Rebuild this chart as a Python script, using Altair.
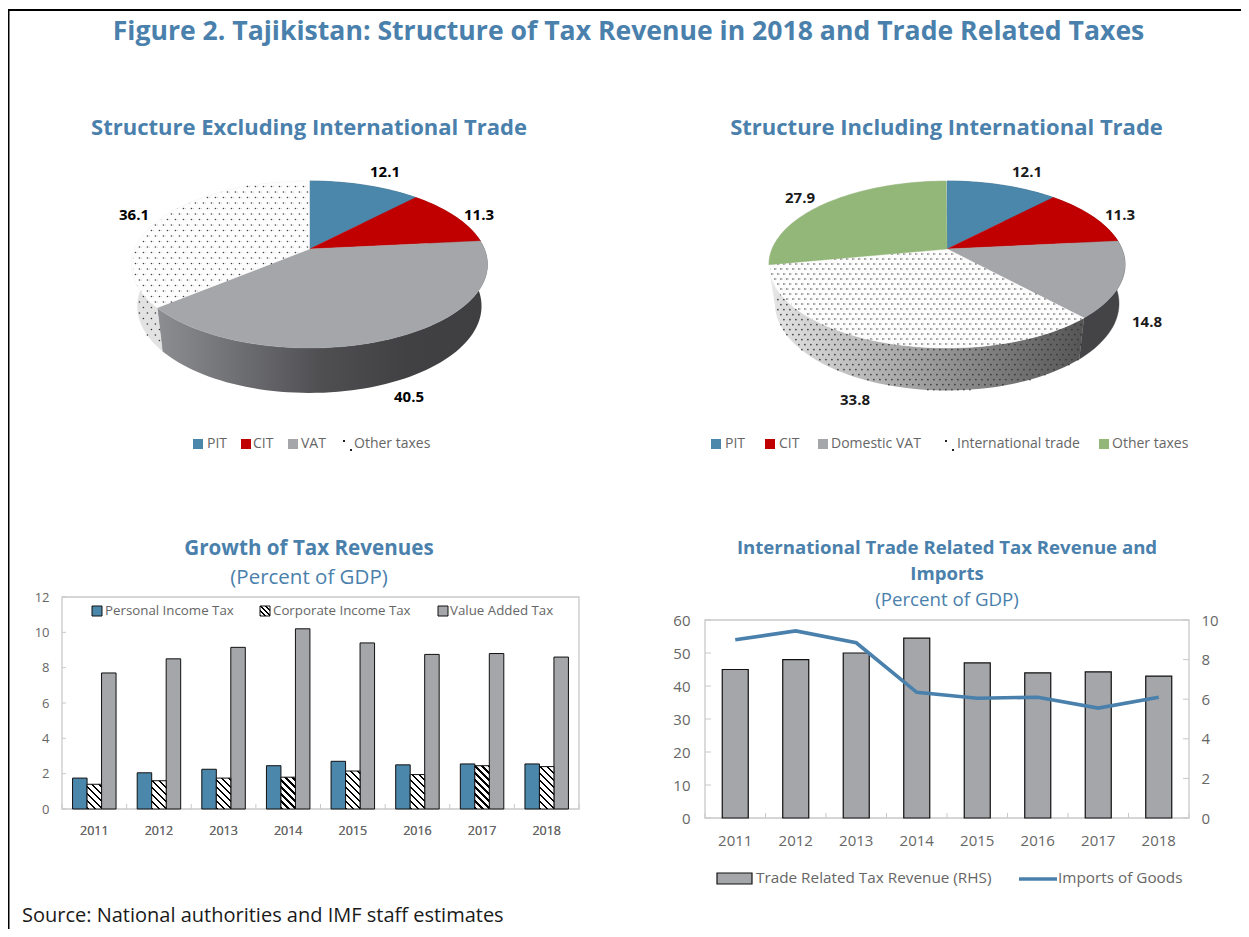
import math
import altair as alt

# ---------- data ----------
years = ["2011", "2012", "2013", "2014", "2015", "2016", "2017", "2018"]
pit = [1.75, 2.05, 2.25, 2.45, 2.7, 2.5, 2.55, 2.55]
cit = [1.4, 1.6, 1.75, 1.8, 2.15, 1.95, 2.45, 2.4]
vat = [7.7, 8.5, 9.15, 10.2, 9.4, 8.75, 8.8, 8.6]
trade_rev = [45, 48, 50, 54.5, 47, 44, 44.3, 43]
imports = [9.0, 9.45, 8.85, 6.35, 6.05, 6.1, 5.55, 6.1]
pie1_values = [12.1, 11.3, 40.5, 36.1]
pie2_values = [12.1, 11.3, 14.8, 33.8, 27.9]

W, H = 1233, 921
BLUE, RED, GREY, GREEN = "#4a87ab", "#c00000", "#a5a6aa", "#93b778"
TITLE = "#4a80ac"
TXT = "#666666"
FONT = "Open Sans"
GEO = dict(type="identity", scale=1, translate=[0, 0])


def X(p):
    return p - 8


def Y(p):
    return p - 8


layers = []


def text(s, x, y, size=13, color=TXT, weight="normal", align="left", font=FONT):
    layers.append(
        alt.Chart(alt.Data(values=[{"t": s}]))
        .mark_text(font=font, fontSize=size, color=color, fontWeight=weight, align=align, baseline="middle")
        .encode(x=alt.value(X(x)), y=alt.value(Y(y)), text="t:N")
    )


def box(x0, y0, x1, y1, **kw):
    layers.append(
        alt.Chart(alt.Data(values=[{"a": 1}]))
        .mark_rect(**kw)
        .encode(x=alt.value(X(x0)), x2=alt.value(X(x1)), y=alt.value(Y(y0)), y2=alt.value(Y(y1)))
    )


def hatch(w, h, period=7.0):
    k = (w + h) / (w * w + h * h)
    stops, q, total = [], 0.0, w + h
    while q < total:
        a, b, c = q / total, min(1, (q + period * 0.32) / total), min(1, (q + period) / total)
        stops += [
            alt.GradientStop(offset=a, color="#000000"),
            alt.GradientStop(offset=b, color="#000000"),
            alt.GradientStop(offset=b, color="#ffffff"),
            alt.GradientStop(offset=c, color="#ffffff"),
        ]
        q += period
    return alt.LinearGradient(gradient="linear", stops=stops, x1=0, y1=1, x2=k * w, y2=1 - k * h)


def grad(pairs):
    return alt.LinearGradient(
        gradient="linear", x1=0, y1=0, x2=1, y2=0,
        stops=[alt.GradientStop(offset=o, color=c) for o, c in pairs],
    )


# ---------- pie geometry (perspective-projected disc) ----------
P, A, B = 0.1857, 175.0, 80.6


def rim(cx, cy, deg, sx=1.0, sy=1.0, d=0.0):
    t = math.radians(deg)
    xx, yy = math.sin(t), math.cos(t)
    w = 1 + P * yy
    return [cx + sx * A * xx / w, cy + d - sy * B * yy / w]


def arc_pts(a, b, cx, cy, sx=1.0, sy=1.0, d=0.0):
    n = max(2, int(abs(b - a) / 2) + 1)
    return [rim(cx, cy, a + (b - a) * i / n, sx, sy, d) for i in range(n + 1)]


def feature(ring):
    ring = [[X(p[0]), Y(p[1])] for p in ring]
    ring = ring + [ring[0]]
    return {"type": "Feature", "properties": {}, "geometry": {"type": "Polygon", "coordinates": [ring]}}


def shape(ring, fill):
    m = {"fill": fill}
    if isinstance(fill, str):
        m.update(stroke=fill, strokeWidth=0.4)
    else:
        m.update(strokeWidth=0)
    layers.append(
        alt.Chart(alt.Data(values=[feature(ring)])).mark_geoshape(**m).project(**GEO)
    )


def inside(pt, poly):
    x, y = pt
    c = False
    for i in range(len(poly)):
        x1, y1 = poly[i]
        x2, y2 = poly[i - 1]
        if (y1 > y) != (y2 > y) and x < (x2 - x1) * (y - y1) / (y2 - y1) + x1:
            c = not c
    return c


def dots(poly, dx, dy, color, size, shift=0.0):
    xs = [p[0] for p in poly]
    ys = [p[1] for p in poly]
    out = []
    row = 0
    yy = min(ys)
    while yy < max(ys):
        xx = min(xs) + (dx / 2 if row % 2 else 0) + shift
        while xx < max(xs):
            if inside((xx, yy), poly):
                out.append({"x": X(xx), "y": Y(yy)})
            xx += dx
        yy += dy
        row += 1
    sc = alt.Scale(domain=[0, W], range=[0, W])
    sy = alt.Scale(domain=[0, H], range=[0, H])
    layers.append(
        alt.Chart(alt.Data(values=out))
        .mark_circle(size=size, color=color, opacity=1)
        .encode(x=alt.X("x:Q", scale=sc, axis=None), y=alt.Y("y:Q", scale=sy, axis=None))
    )


def pie(values, colors, walls, cx, cy, depth, dotted, wall_dot, ddx, ddy):
    cuts = [0.0]
    for v in values:
        cuts.append(cuts[-1] + v * 3.6)
    for i in range(len(values)):
        a, b = cuts[i], cuts[i + 1]
        poly = arc_pts(a, b, cx, cy) + arc_pts(b, a, cx, cy, 0.966, 1.04, depth)
        shape(poly, walls[i])
        if i == dotted:
            dots(poly, ddx, ddy, wall_dot, 2.6)
    for i in range(len(values)):
        a, b = cuts[i], cuts[i + 1]
        poly = [[cx, cy]] + arc_pts(a, b, cx, cy)
        shape(poly, colors[i])
        if i == dotted:
            dots(poly, ddx, ddy, "#d0d0d0", 1.6, shift=ddx / 4)
            dots(poly, ddx, ddy, "#444444", 2.6)


# ---------- frame ----------
box(7, 9, 1249, 11, fill="#000000")
box(7, 9, 9.5, 937, fill="#000000")

# ---------- titles ----------
text("Figure 2. Tajikistan: Structure of Tax Revenue in 2018 and Trade Related Taxes", 628.5, 32, 26.6, TITLE, "bold", "center")
text("Structure Excluding International Trade", 309, 128, 22, TITLE, "bold", "center")
text("Structure Including International Trade", 946.5, 128, 22, TITLE, "bold", "center")
text("Growth of Tax Revenues", 309, 549, 20.6, TITLE, "bold", "center")
text("(Percent of GDP)", 309, 578, 20.5, TITLE, "normal", "center")
text("International Trade Related Tax Revenue and", 947, 548, 18.6, TITLE, "bold", "center")
text("Imports", 947, 574, 18.6, TITLE, "bold", "center")
text("(Percent of GDP)", 947, 600, 18.7, TITLE, "normal", "center")
text("Source: National authorities and IMF staff estimates", 22, 916, 20, "#1a1a1a")

# ---------- pies ----------
pie(
    pie1_values, [BLUE, RED, GREY, "#fdfdfd"],
    ["#35607a", "#800000", grad([(0, "#8d8e92"), (0.5, "#4f4f52"), (0.75, "#414143"), (1, "#3f3f41")]), "#e2e2e2"],
    309.5, 249, 41, 3, "#333333", 8, 5.5,
)
pie(
    pie2_values, [BLUE, RED, GREY, "#fdfdfd", GREEN],
    ["#35607a", "#800000", "#444446", grad([(0, "#e6e6e6"), (0.45, "#a4a4a4"), (1, "#555555")]), "#e6e6e6"],
    947, 249, 38.5, 3, "#333333", 6, 5,
)
for v, px, py in zip(pie1_values, [385, 479, 409, 134], [172, 215, 397, 215]):
    text(f"{v}", px, py, 15, "#000000", "bold", "center")
for v, px, py in zip(pie2_values, [1027, 1120, 1147, 855, 800], [172, 215, 322, 400, 198]):
    text(f"{v}", px, py, 15, "#1a1a1a", "bold", "center")

# pie legends
for x0, c in [(193, BLUE), (241, RED), (288, GREY), (711, BLUE), (765, RED), (818, GREY), (1099, GREEN)]:
    box(x0, 439, x0 + 10, 449, fill=c)
for x0, s in [(207, "PIT"), (253, "CIT"), (301, "VAT"), (354, "Other taxes"), (725, "PIT"), (779, "CIT"), (831, "Domestic VAT"), (957, "International trade"), (1112, "Other taxes")]:
    text(s, x0, 444, 14)
for x0, y0 in [(343, 440), (350, 449), (945, 440), (952, 449)]:
    box(x0, y0, x0 + 2, y0 + 2, fill="#222222")

# ---------- bar panel: growth of tax revenues ----------
L1, R1, T1, B1 = 62, 579, 597, 809
box(L1, T1, R1, B1, fill="#ffffff", stroke="#c9c9c9", strokeWidth=1.3)
x1 = alt.Scale(domain=years, range=[X(L1), X(R1)], paddingInner=0.327, paddingOuter=0.1635)
y1 = alt.Scale(domain=[0, 12], range=[Y(B1), Y(T1)])
off1 = alt.Scale(domain=["PIT", "CIT", "VAT"])
layers.append(
    alt.Chart(alt.Data(values=[{"v": v} for v in range(0, 14, 2)]))
    .mark_rule(color="#c9c9c9", strokeWidth=1)
    .encode(y=alt.Y("v:Q", scale=y1, axis=alt.Axis(
        orient="left", offset=-X(L1), values=list(range(0, 14, 2)), title=None, ticks=False, domain=False,
        grid=False, labelFont=FONT, labelFontSize=13, labelColor=TXT, labelPadding=13)),
        x=alt.value(X(L1)), x2=alt.value(X(L1 + 4)))
)
layers.append(
    alt.Chart(alt.Data(values=[{"v": v} for v in range(9)]))
    .mark_rule(color="#c9c9c9", strokeWidth=1)
    .encode(x=alt.X("v:Q", scale=alt.Scale(domain=[0, 8], range=[X(L1), X(R1)]), axis=None),
            y=alt.value(Y(B1 - 5)), y2=alt.value(Y(B1)))
)
base1 = [{"year": y, "s": "PIT", "v": v} for y, v in zip(years, pit)] + [
    {"year": y, "s": "VAT", "v": v} for y, v in zip(years, vat)
]
for s, c in [("PIT", BLUE), ("VAT", GREY)]:
    layers.append(
        alt.Chart(alt.Data(values=[r for r in base1 if r["s"] == s]))
        .mark_bar(fill=c, stroke="#111111", strokeWidth=1)
        .encode(
            x=alt.X("year:N", scale=x1, sort=years, axis=alt.Axis(
                orient="bottom", offset=-(H - Y(B1)), title=None, ticks=False, domain=False, grid=False,
                labelFont=FONT, labelFontSize=12.5, labelColor=TXT, labelAngle=0, labelPadding=15)),
            xOffset=alt.XOffset("s:N", scale=off1),
            y=alt.Y("v:Q", scale=y1, axis=None),
        )
    )
for y_, v in zip(years, cit):
    layers.append(
        alt.Chart(alt.Data(values=[{"year": y_, "s": "CIT", "v": v}]))
        .mark_bar(fill=hatch(14.5, v * (B1 - T1) / 12), stroke="#111111", strokeWidth=1)
        .encode(
            x=alt.X("year:N", scale=x1, sort=years, axis=None),
            xOffset=alt.XOffset("s:N", scale=off1),
            y=alt.Y("v:Q", scale=y1, axis=None),
        )
    )
box(92, 606, 102, 616, fill=BLUE, stroke="#111111", strokeWidth=1)
box(260, 606, 270, 616, fill=hatch(10, 10, 5), stroke="#111111", strokeWidth=1)
box(438, 606, 448, 616, fill=GREY, stroke="#111111", strokeWidth=1)
text("Personal Income Tax", 105, 611, 13.3)
text("Corporate Income Tax", 273, 611, 13.3)
text("Value Added Tax", 450, 611, 13.3)

# ---------- bar + line panel ----------
L2, R2, T2, B2 = 705, 1189, 620, 818
box(L2, T2, R2, B2, fill="#ffffff", stroke="#c9c9c9", strokeWidth=1.3)
x2 = alt.Scale(domain=years, range=[X(L2), X(R2)], paddingInner=0.57, paddingOuter=0.285)
y2l = alt.Scale(domain=[0, 60], range=[Y(B2), Y(T2)])
y2r = alt.Scale(domain=[0, 10], range=[Y(B2), Y(T2)])
layers.append(
    alt.Chart(alt.Data(values=[{"v": v} for v in range(0, 70, 10)]))
    .mark_rule(color="#c9c9c9", strokeWidth=1)
    .encode(y=alt.Y("v:Q", scale=y2l, axis=alt.Axis(
        orient="left", offset=-X(L2), values=list(range(0, 70, 10)), title=None, ticks=False, domain=False,
        grid=False, labelFont=FONT, labelFontSize=15, labelColor=TXT, labelPadding=15)),
        x=alt.value(X(L2)), x2=alt.value(X(L2 + 6)))
)
layers.append(
    alt.Chart(alt.Data(values=[{"v": v} for v in range(0, 12, 2)]))
    .mark_rule(color="#c9c9c9", strokeWidth=1)
    .encode(y=alt.Y("v:Q", scale=y2r, axis=alt.Axis(
        orient="right", offset=-(W - X(R2)), values=list(range(0, 12, 2)), title=None, ticks=False, domain=False,
        grid=False, labelFont=FONT, labelFontSize=15, labelColor=TXT, labelPadding=12)),
        x=alt.value(X(R2 - 6)), x2=alt.value(X(R2)))
)
layers.append(
    alt.Chart(alt.Data(values=[{"v": v} for v in range(9)]))
    .mark_rule(color="#c9c9c9", strokeWidth=1)
    .encode(x=alt.X("v:Q", scale=alt.Scale(domain=[0, 8], range=[X(L2), X(R2)]), axis=None),
            y=alt.value(Y(B2 - 5)), y2=alt.value(Y(B2)))
)
layers.append(
    alt.Chart(alt.Data(values=[{"year": y, "v": v} for y, v in zip(years, trade_rev)]))
    .mark_bar(fill=GREY, stroke="#111111", strokeWidth=1.2)
    .encode(
        x=alt.X("year:N", scale=x2, sort=years, axis=alt.Axis(
            orient="bottom", offset=-(H - Y(B2)), title=None, ticks=False, domain=False, grid=False,
            labelFont=FONT, labelFontSize=15, labelColor=TXT, labelAngle=0, labelPadding=15)),
        y=alt.Y("v:Q", scale=y2l, axis=None),
    )
)
layers.append(
    alt.Chart(alt.Data(values=[{"year": y, "v": v} for y, v in zip(years, imports)]))
    .mark_line(color=TITLE, strokeWidth=3.6)
    .encode(
        x=alt.X("year:N", scale=alt.Scale(domain=years, range=[X(L2), X(R2)], type="point", padding=0.5), sort=years, axis=None),
        y=alt.Y("v:Q", scale=y2r, axis=None),
    )
)
box(717, 873, 752, 884, fill=GREY, stroke="#111111", strokeWidth=1.2)
layers.append(
    alt.Chart(alt.Data(values=[{"a": 1}]))
    .mark_rule(color=TITLE, strokeWidth=3.6)
    .encode(x=alt.value(X(1019)), x2=alt.value(X(1057)), y=alt.value(Y(879)))
)
text("Trade Related Tax Revenue (RHS)", 756, 878, 15.3)
text("Imports of Goods", 1058, 878, 15.3)

chart = (
    alt.layer(*layers)
    .resolve_scale(x="independent", y="independent", xOffset="independent")
    .properties(width=W, height=H, padding=0, background="#ffffff",
                autosize=alt.AutoSizeParams(type="none"))
    .configure_view(stroke=None)
)
chart.save("out.html", embed_options={"renderer": "svg", "actions": False})
